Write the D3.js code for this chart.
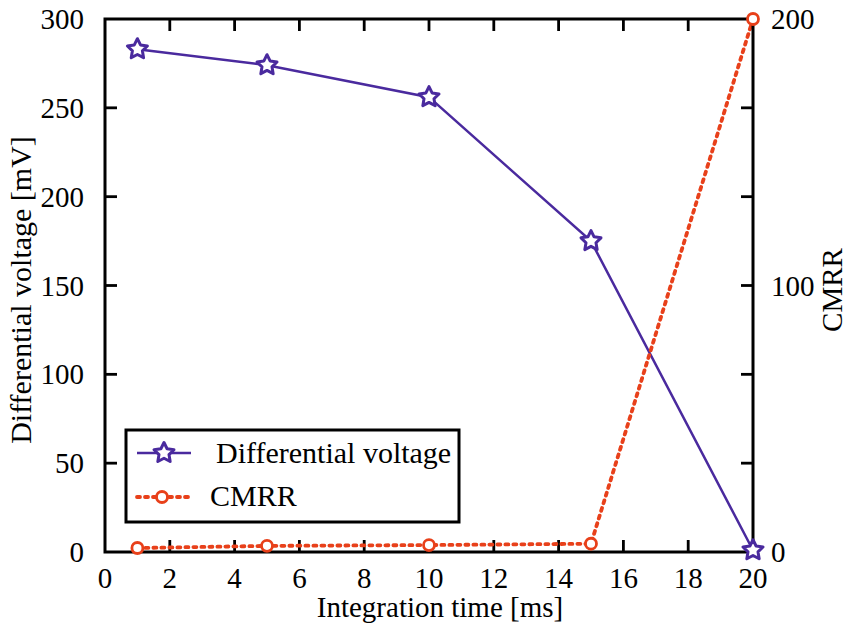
<!DOCTYPE html>
<html>
<head>
<meta charset="utf-8">
<script src="https://cdnjs.cloudflare.com/ajax/libs/d3/7.8.5/d3.min.js"></script>
<style>
  body { margin: 0; background: #fff; }
  text { font-family: "Liberation Serif", "Times New Roman", serif; fill: #000; }
</style>
</head>
<body>
<script>
var timeMs = [1, 5, 10, 15, 20];
var diffVoltage = [283, 274, 256, 175, 1];
var cmrr = [1.5, 2.3, 2.6, 3.1, 200];
var xTicks = [0, 2, 4, 6, 8, 10, 12, 14, 16, 18, 20];
var yTicks = [0, 50, 100, 150, 200, 250, 300];
var y2Ticks = [0, 100, 200];

var w = 847, h = 627;
var pLeft = 105, pRight = 753, pTop = 19, pBottom = 552;
var purple = "#4a2a9e", orange = "#e8401a";

var svg = d3.select("body").append("svg")
            .attr("width", w)
            .attr("height", h);

var x = d3.scaleLinear().domain([0, 20]).range([pLeft, pRight]);
var y = d3.scaleLinear().domain([0, 300]).range([pBottom, pTop]);
var y2 = d3.scaleLinear().domain([0, 200]).range([pBottom, pTop]);

// ticks (inward, mirrored)
var tl = 12;
var g = svg.append("g").attr("stroke", "#000").attr("stroke-width", 2.8);
xTicks.slice(1, -1).forEach(function(t){
  g.append("line").attr("x1", x(t)).attr("x2", x(t)).attr("y1", pBottom).attr("y2", pBottom - tl);
  g.append("line").attr("x1", x(t)).attr("x2", x(t)).attr("y1", pTop).attr("y2", pTop + tl);
});
yTicks.slice(1, -1).forEach(function(t){
  g.append("line").attr("x1", pLeft).attr("x2", pLeft + tl).attr("y1", y(t)).attr("y2", y(t));
  g.append("line").attr("x1", pRight).attr("x2", pRight - tl).attr("y1", y(t)).attr("y2", y(t));
});

// tick labels
svg.selectAll(".xl").data(xTicks).enter().append("text")
   .attr("x", function(d){ return x(d); })
   .attr("y", 588)
   .attr("text-anchor", "middle")
   .attr("font-size", "29px")
   .text(function(d){ return d; });

svg.selectAll(".yl").data(yTicks).enter().append("text")
   .attr("x", 84)
   .attr("y", function(d){ return y(d) + 10; })
   .attr("text-anchor", "end")
   .attr("font-size", "29px")
   .text(function(d){ return d; });

svg.selectAll(".y2l").data(y2Ticks).enter().append("text")
   .attr("x", 771)
   .attr("y", function(d){ return y2(d) + 10; })
   .attr("text-anchor", "start")
   .attr("font-size", "29px")
   .text(function(d){ return d; });

// axis titles
svg.append("text")
   .attr("x", 440).attr("y", 617)
   .attr("text-anchor", "middle").attr("font-size", "29px")
   .text("Integration time [ms]");

svg.append("text")
   .attr("transform", "translate(31,290) rotate(-90)")
   .attr("text-anchor", "middle").attr("font-size", "30px")
   .text("Differential voltage [mV]");

svg.append("text")
   .attr("transform", "translate(842,290) rotate(-90)")
   .attr("text-anchor", "middle").attr("font-size", "29px")
   .text("CMRR");

// star path
function starPath(r){
  var pts = [];
  for (var i = 0; i < 10; i++) {
    var a = -Math.PI / 2 + i * Math.PI / 5;
    var rr = i % 2 === 0 ? r : r * 0.5;
    pts.push([rr * Math.cos(a), rr * Math.sin(a)]);
  }
  return "M" + pts.map(function(p){ return p[0].toFixed(2) + "," + p[1].toFixed(2); }).join("L") + "Z";
}

// series
var dvData = timeMs.map(function(t, i){ return [t, diffVoltage[i]]; });
var cmData = timeMs.map(function(t, i){ return [t, cmrr[i]]; });

svg.append("path")
   .datum(dvData)
   .attr("fill", "none").attr("stroke", purple).attr("stroke-width", 2.5)
   .attr("d", d3.line().x(function(d){ return x(d[0]); }).y(function(d){ return y(d[1]); }));

svg.append("path")
   .datum(cmData)
   .attr("fill", "none").attr("stroke", orange).attr("stroke-width", 3.8)
   .attr("stroke-dasharray", "3,5").attr("stroke-linecap", "round")
   .attr("d", d3.line().x(function(d){ return x(d[0]); }).y(function(d){ return y2(d[1]); }));

// frame
svg.append("rect")
   .attr("x", pLeft).attr("y", pTop)
   .attr("width", pRight - pLeft).attr("height", pBottom - pTop)
   .attr("fill", "none").attr("stroke", "#000").attr("stroke-width", 3);

svg.selectAll(".star").data(dvData).enter().append("path")
   .attr("transform", function(d){ return "translate(" + x(d[0]) + "," + y(d[1]) + ")"; })
   .attr("d", starPath(10.5))
   .attr("fill", "#fff").attr("stroke", purple).attr("stroke-width", 3)
   .attr("stroke-linejoin", "round");

svg.selectAll(".circ").data(cmData).enter().append("circle")
   .attr("cx", function(d){ return x(d[0]); })
   .attr("cy", function(d){ return y2(d[1]); })
   .attr("r", 5.5)
   .attr("fill", "#fff").attr("stroke", orange).attr("stroke-width", 2.8);

// legend
svg.append("rect")
   .attr("x", 126).attr("y", 430).attr("width", 333).attr("height", 92)
   .attr("fill", "#fff").attr("stroke", "#000").attr("stroke-width", 3);

svg.append("line").attr("x1", 137).attr("x2", 191).attr("y1", 453).attr("y2", 453)
   .attr("stroke", purple).attr("stroke-width", 2.5);
svg.append("path").attr("transform", "translate(164,453)").attr("d", starPath(10.5))
   .attr("fill", "#fff").attr("stroke", purple).attr("stroke-width", 3).attr("stroke-linejoin", "round");
svg.append("text").attr("x", 216).attr("y", 463).attr("font-size", "30px").text("Differential voltage");

svg.append("line").attr("x1", 137).attr("x2", 188).attr("y1", 497).attr("y2", 497)
   .attr("stroke", orange).attr("stroke-width", 3.8)
   .attr("stroke-dasharray", "3,5").attr("stroke-linecap", "round");
svg.append("circle").attr("cx", 162).attr("cy", 497).attr("r", 5.5)
   .attr("fill", "#fff").attr("stroke", orange).attr("stroke-width", 2.8);
svg.append("text").attr("x", 210).attr("y", 506).attr("font-size", "30px").text("CMRR");
</script>
</body>
</html>
